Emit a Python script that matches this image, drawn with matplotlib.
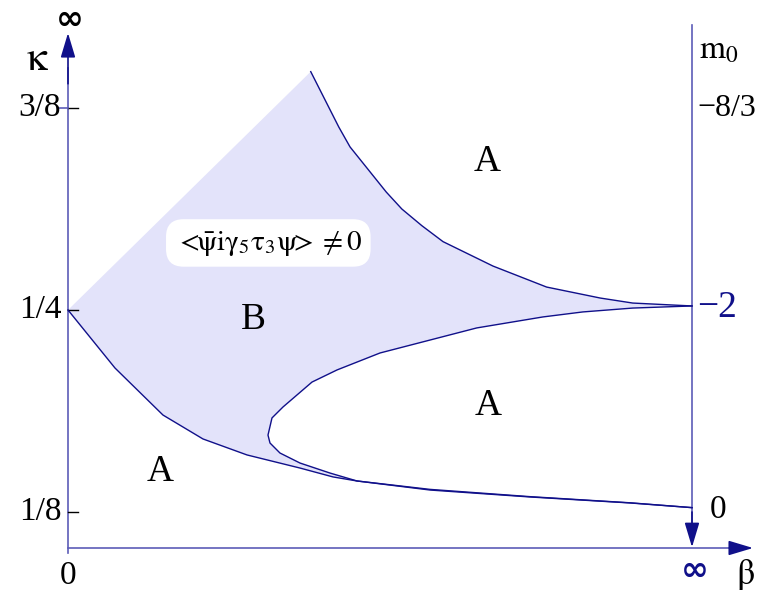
import matplotlib.pyplot as plt
import numpy as np

plt.rcParams['font.family'] = ['Liberation Serif', 'DejaVu Serif']
plt.rcParams['mathtext.fontset'] = 'stix'

# beta runs from 0 (x=0) to infinity (x=1); kappa on the left, m0 = 1/(2 kappa) - 4 on the right
# upper boundary of phase B
up_x = [0.389, 0.434, 0.452, 0.510, 0.535, 0.567, 0.601, 0.681, 0.767, 0.853, 0.905, 1.0]
up_k = [0.3975, 0.3632, 0.3509, 0.3230, 0.3125, 0.3022, 0.2923, 0.2772, 0.2642, 0.2574, 0.2543, 0.2525]

# lower boundary of phase B (left lobe) running out to beta = inf
low_x = [0.0, 0.0753, 0.1522, 0.2163, 0.2869, 0.3718, 0.4247, 0.4631, 0.5801, 0.7404, 0.9006, 1.0]
low_k = [0.25, 0.2141, 0.1850, 0.1702, 0.1603, 0.1522, 0.1467, 0.1442, 0.1386, 0.1343, 0.1306, 0.1277]

# inner boundary (the "nose" around the second A region)
in_x = [1.0, 0.905, 0.825, 0.761, 0.655, 0.5, 0.4311, 0.391, 0.3446, 0.3269, 0.3205,
        0.3237, 0.3397, 0.3718, 0.4199, 0.4631, 0.5801, 0.7404, 0.9006, 1.0]
in_k = [0.2525, 0.2512, 0.2488, 0.2457, 0.2389, 0.2234, 0.2129, 0.2054, 0.1900, 0.1832, 0.1726,
        0.1677, 0.1615, 0.1553, 0.1491, 0.1442, 0.1390, 0.1345, 0.1307, 0.1277]

kappa_ticks = [1/8, 1/4, 3/8]
kappa_labels = ['1/8', '1/4', '3/8']

line_c = '#10108a'
axis_c = '#5c5cb8'
fill_c = '#e3e3fa'

fig = plt.figure(figsize=(7.66, 5.9), dpi=100)
ax = fig.add_axes([0, 0, 1, 1])
ax.set_axis_off()
ax.set_xlim(-68/624, 698/624)
ax.set_ylim(0.125 - 78*0.125/202, 0.125 + 512*0.125/202)

# shaded B region: diagonal edge, upper curve, inner curve back to the nose, lower curve back
n_nose = 16
px = np.concatenate([[0.0], up_x, in_x[1:n_nose], low_x[:7][::-1]])
pk = np.concatenate([[0.25], up_k, in_k[1:n_nose], low_k[:7][::-1]])
ax.fill(px, pk, color=fill_c, lw=0, zorder=1)

ax.plot(up_x, up_k, color=line_c, lw=1.0, zorder=3)
ax.plot(low_x, low_k, color=line_c, lw=1.0, zorder=3)
ax.plot(in_x, in_k, color=line_c, lw=1.0, zorder=3)

# axes drawn by hand
k_bot = 0.125 - 36*0.125/202
ax.plot([0, 0], [0.125 - 41*0.125/202, 0.40], color=axis_c, lw=1.2, zorder=2)
ax.plot([0, 1.085], [k_bot, k_bot], color=axis_c, lw=1.2, zorder=2)
ax.plot([1, 1], [0.4264, 0.115], color=axis_c, lw=1.2, zorder=2)
arrow = dict(arrowstyle='-|>,head_length=1.0,head_width=0.3', color=line_c, lw=1.2,
             shrinkA=0, shrinkB=0, mutation_scale=15)
ax.annotate('', xy=(0, 0.4214), xytext=(0, 0.39), arrowprops=arrow)
ax.annotate('', xy=(1, k_bot + 0.0005), xytext=(1, 0.125), arrowprops=arrow)
ax.annotate('', xy=(1.0978, k_bot), xytext=(1.06, k_bot), arrowprops=arrow)

for k, lab in zip(kappa_ticks, kappa_labels):
    ax.plot([0, 0.016], [k, k], color='black', lw=1.0, zorder=2)
    ax.text(-0.011, k, lab, ha='right', va='center', fontsize=24)
ax.plot([-0.0144, 0], [3/8, 3/8], color=axis_c, lw=1.2, zorder=2)

# right-hand m0 labels
ax.text(1.008, 3/8, '\u22128/3', ha='left', va='center', fontsize=23)
ax.text(1.008, 0.2515, '\u22122', ha='left', va='center', fontsize=27, color=line_c)
ax.text(1.028, 0.1265, '0', ha='left', va='center', fontsize=24)
ax.text(1.012, 0.4105, r'$\mathrm{m}_0$', ha='left', va='center', fontsize=24)

# axis names and end labels
ax.text(-0.049, 0.4047, r'$\mathrm{\kappa}$', ha='center', va='center', fontsize=30)
ax.text(0.003, 0.4295, '\u221e', ha='center', va='center', fontsize=24, fontweight='bold',
        family='DejaVu Sans')
ax.text(0.0, 0.0855, '0', ha='center', va='center', fontsize=24)
ax.text(1.005, 0.0891, '\u221e', ha='center', va='center', fontsize=24, fontweight='bold',
        family='DejaVu Sans', color=line_c)
ax.text(1.085, 0.0855, r'$\mathrm{\beta}$', ha='center', va='center', fontsize=26)

# phase labels
ax.text(0.672, 0.342, 'A', ha='center', va='center', fontsize=27)
ax.text(0.673, 0.191, 'A', ha='center', va='center', fontsize=27)
ax.text(0.147, 0.150, 'A', ha='center', va='center', fontsize=27)
ax.text(0.297, 0.2442, 'B', ha='center', va='center', fontsize=27)
ax.text(0.321, 0.2915,
        r'$<\!\!\bar{\mathrm{\psi}}\mathrm{i}\mathrm{\gamma}_5\mathrm{\tau}_3\mathrm{\psi}\!\!>\neq 0$',
        ha='center', va='center', fontsize=21,
        bbox=dict(boxstyle='round,pad=0.3,rounding_size=0.6', fc='white', ec='none'))

fig.savefig('out.png', dpi=100)
